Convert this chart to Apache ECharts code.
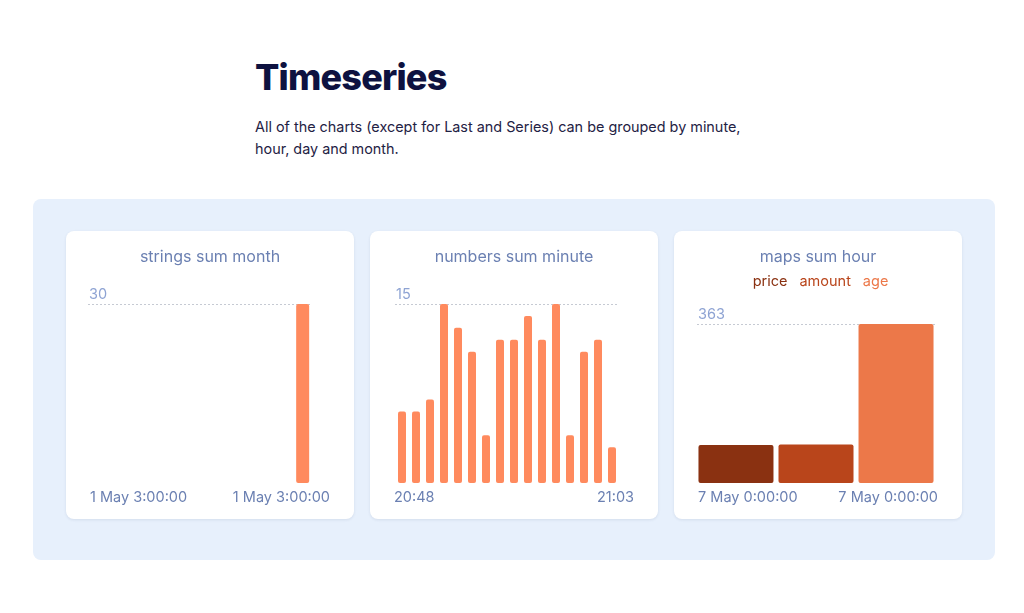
<!DOCTYPE html>
<html>
<head>
<meta charset="utf-8">
<script src="https://cdn.jsdelivr.net/npm/echarts@6/dist/echarts.min.js"></script>
<style>
  body {
    margin: 0;
    width: 1024px;
    height: 613px;
    background: #fff;
    font-family: Inter, sans-serif;
    position: relative;
    overflow: hidden;
  }
  .heading {
    position: absolute;
    left: 255px;
    top: 55px;
    margin: 0;
    font-size: 36px;
    font-weight: 800;
    letter-spacing: -0.8px;
    color: #0e1240;
  }
  .intro {
    position: absolute;
    left: 255px;
    top: 116px;
    width: 520px;
    margin: 0;
    font-size: 14.4px;
    line-height: 22px;
    color: #1f2244;
  }
  .panel {
    position: absolute;
    left: 33px;
    top: 199px;
    width: 962px;
    height: 361px;
    border-radius: 8px;
    background: #e7f0fc;
  }
  .card {
    position: absolute;
    top: 32px;
    width: 288px;
    height: 288px;
    border-radius: 8px;
    background: #fff;
    box-shadow: 0 1px 3px rgba(40, 60, 100, 0.1);
  }
  .card .chart {
    width: 288px;
    height: 288px;
  }
</style>
</head>
<body>
  <h1 class="heading">Timeseries</h1>
  <p class="intro">All of the charts (except for Last and Series) can be grouped by minute,<br>hour, day and month.</p>
  <div class="panel">
    <div class="card" style="left: 33px"><div id="strings" class="chart"></div></div>
    <div class="card" style="left: 337px"><div id="numbers" class="chart"></div></div>
    <div class="card" style="left: 641px"><div id="maps" class="chart"></div></div>
  </div>

<script>
// strings sum month
const stringsValues = [0, 0, 0, 0, 0, 0, 0, 0, 0, 0, 0, 30];
const stringsTicks = ['1 May 3:00:00', '1 May 3:00:00'];
const stringsMax = 30;

// numbers sum minute
const numbersCategories = ['20:48', '20:49', '20:50', '20:51', '20:52', '20:53', '20:54', '20:55',
  '20:56', '20:57', '20:58', '20:59', '21:00', '21:01', '21:02', '21:03'];
const numbersValues = [6, 6, 7, 15, 13, 11, 4, 12, 12, 14, 12, 15, 4, 11, 12, 3];
const numbersTicks = ['20:48', '21:03'];
const numbersMax = 15;

// maps sum hour
const mapsCategories = ['7 May 0:00:00'];
const mapsSeries = ['price', 'amount', 'age'];
const mapsPrice = [87];
const mapsAmount = [88];
const mapsAge = [363];
const mapsTicks = ['7 May 0:00:00', '7 May 0:00:00'];
const mapsMax = 363;

const FONT = 'Inter';
const TITLE_COLOR = '#6b80b2';
const BAR_COLOR = '#ff8a5e';
const MAPS_COLORS = ['#8a3111', '#b9451b', '#ec7849'];

const baseOption = (title, max, ticks, grid) => ({
  animation: false,
  textStyle: { fontFamily: FONT },
  title: {
    text: title,
    left: 'center',
    top: 13,
    textStyle: {
      color: TITLE_COLOR,
      fontSize: 16,
      fontWeight: 'normal',
      fontFamily: FONT,
    },
  },
  grid: [
    grid,
    { left: 24, right: 24, top: 252, height: 0 },
  ],
  yAxis: [
    {
      type: 'value',
      gridIndex: 0,
      min: 0,
      max,
      interval: max,
      axisLine: { show: false },
      axisTick: { show: false },
      splitLine: {
        show: true,
        lineStyle: { color: ['transparent', '#c6cad3'], type: [2, 2], width: 1 },
      },
      axisLabel: {
        inside: true,
        margin: 1,
        verticalAlign: 'bottom',
        padding: [0, 0, 2, 0],
        color: '#8ea3d3',
        fontSize: 14.5,
        fontFamily: FONT,
        formatter: v => (v === max ? String(v) : ''),
      },
    },
    { type: 'value', gridIndex: 1, show: false },
  ],
  tickAxis: {
    type: 'category',
    gridIndex: 1,
    data: ticks,
    boundaryGap: false,
    axisLine: { show: false },
    axisTick: { show: false },
    axisLabel: {
      margin: 7,
      color: TITLE_COLOR,
      fontSize: 14.5,
      fontFamily: FONT,
      alignMinLabel: 'left',
      alignMaxLabel: 'right',
      interval: 0,
    },
  },
});

const hiddenCategoryAxis = data => ({
  type: 'category',
  gridIndex: 0,
  data,
  axisLine: { show: false },
  axisTick: { show: false },
  axisLabel: { show: false },
});

// chart 1
const opt1 = baseOption('strings sum month', stringsMax, stringsTicks,
  { left: 22, right: 42, top: 73, bottom: 36 });
opt1.xAxis = [hiddenCategoryAxis(stringsValues.map((_, i) => i)), opt1.tickAxis];
delete opt1.tickAxis;
opt1.series = [{
  type: 'bar',
  data: stringsValues,
  barWidth: 13,
  itemStyle: { color: BAR_COLOR, borderRadius: 2 },
}];
echarts.init(document.getElementById('strings')).setOption(opt1);

// chart 2
const opt2 = baseOption('numbers sum minute', numbersMax, numbersTicks,
  { left: 25, right: 39, top: 73, bottom: 36 });
opt2.xAxis = [hiddenCategoryAxis(numbersCategories), opt2.tickAxis];
delete opt2.tickAxis;
opt2.series = [{
  type: 'bar',
  data: numbersValues,
  barWidth: 8,
  itemStyle: { color: BAR_COLOR, borderRadius: 2 },
}];
echarts.init(document.getElementById('numbers')).setOption(opt2);

// chart 3
const opt3 = baseOption('maps sum hour', mapsMax, mapsTicks,
  { left: 23, right: 27, top: 93, bottom: 36 });
opt3.xAxis = [hiddenCategoryAxis(mapsCategories), opt3.tickAxis];
delete opt3.tickAxis;
opt3.legend = {
  top: 38,
  left: 'center',
  itemWidth: 0,
  itemHeight: 0,
  itemGap: 7,
  data: mapsSeries.map((name, i) => ({
    name,
    textStyle: { color: MAPS_COLORS[i] },
  })),
  textStyle: { fontSize: 14.5, fontFamily: FONT },
};
opt3.series = [mapsPrice, mapsAmount, mapsAge].map((data, i) => ({
  name: mapsSeries[i],
  type: 'bar',
  data,
  barWidth: 75,
  barGap: '6.7%',
  itemStyle: { color: MAPS_COLORS[i], borderRadius: 2 },
}));
echarts.init(document.getElementById('maps')).setOption(opt3);
</script>
</body>
</html>
